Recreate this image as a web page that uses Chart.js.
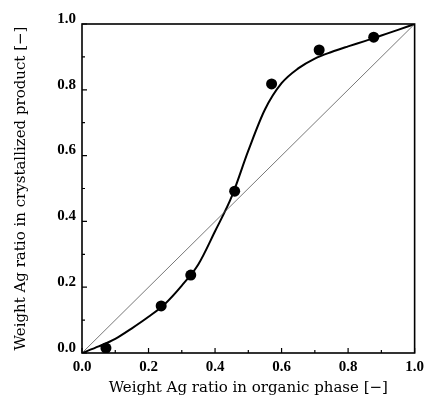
<!DOCTYPE html>
<html>
<head>
<meta charset="utf-8">
<script src="https://cdn.jsdelivr.net/npm/chart.js@4.4.1/dist/chart.umd.min.js"></script>
<style>
  html, body { margin: 0; padding: 0; background: #fff; }
  #wrap { width: 429px; height: 399px; }
</style>
</head>
<body>
<div id="wrap"><canvas id="chart"></canvas></div>
<script>
// measured points
const expX = [0.072, 0.238, 0.327, 0.459, 0.570, 0.713, 0.877];
const expY = [0.015, 0.143, 0.237, 0.492, 0.818, 0.921, 0.960];

// fitted curve
const curveX = [0, 0.05, 0.1, 0.15, 0.2, 0.25, 0.3, 0.35, 0.4, 0.45, 0.5, 0.55, 0.6, 0.65, 0.7, 0.75, 0.8, 0.85, 0.9, 0.95, 1.0];
const curveY = [0, 0.02, 0.043, 0.075, 0.11, 0.15, 0.205, 0.27, 0.37, 0.475, 0.615, 0.74, 0.82, 0.865, 0.895, 0.915, 0.932, 0.948, 0.965, 0.982, 1.0];

// x = y reference line
const diagX = [0, 1];
const diagY = [0, 1];

const tickValues = [0, 0.1, 0.2, 0.3, 0.4, 0.5, 0.6, 0.7, 0.8, 0.9, 1.0];

const SERIF = '"Liberation Serif", "DejaVu Serif", serif';
const TITLE_SERIF = '"DejaVu Serif", "Liberation Serif", serif';

const zip = (xs, ys) => xs.map((x, i) => ({ x, y: ys[i] }));
const isMajor = (v) => Math.round(v * 10) % 2 === 0;

// frame + inward tick marks
const framePlugin = {
  id: 'frameTicks',
  afterDraw(chart) {
    const { ctx, chartArea, scales } = chart;
    const { left, right, top, bottom } = chartArea;
    ctx.save();
    ctx.strokeStyle = '#000';
    ctx.lineWidth = 1.6;
    ctx.strokeRect(left, top, right - left, bottom - top);
    ctx.lineWidth = 1.2;
    ctx.beginPath();
    tickValues.forEach((v) => {
      const len = isMajor(v) ? 5 : 3;
      const px = scales.x.getPixelForValue(v);
      ctx.moveTo(px, bottom);
      ctx.lineTo(px, bottom - len);
      const py = scales.y.getPixelForValue(v);
      ctx.moveTo(left, py);
      ctx.lineTo(left + len, py);
    });
    ctx.stroke();
    ctx.restore();
  }
};

const tickCallback = (value) => (isMajor(value) ? Number(value).toFixed(1) : '');

new Chart(document.getElementById('chart'), {
  type: 'scatter',
  data: {
    datasets: [
      {
        type: 'line',
        data: zip(diagX, diagY),
        borderColor: '#555',
        borderWidth: 0.8,
        pointRadius: 0,
        fill: false
      },
      {
        type: 'line',
        data: zip(curveX, curveY),
        borderColor: '#000',
        borderWidth: 2,
        pointRadius: 0,
        cubicInterpolationMode: 'monotone',
        fill: false
      },
      {
        data: zip(expX, expY),
        pointRadius: 5.5,
        pointBackgroundColor: '#000',
        pointBorderColor: '#000',
        pointBorderWidth: 0
      }
    ]
  },
  options: {
    responsive: true,
    maintainAspectRatio: false,
    animation: false,
    layout: { padding: { top: 24, right: 12, left: 0, bottom: 0 } },
    plugins: {
      legend: { display: false },
      tooltip: { enabled: false }
    },
    scales: {
      x: {
        type: 'linear',
        min: 0,
        max: 1,
        afterFit: (scale) => { scale.height = 46; },
        grid: { display: false, drawTicks: false },
        border: { display: false },
        ticks: {
          stepSize: 0.1,
          autoSkip: false,
          maxRotation: 0,
          padding: 5,
          color: '#000',
          font: { family: SERIF, size: 15, weight: 'bold' },
          callback: tickCallback
        },
        title: {
          display: true,
          text: 'Weight Ag ratio in organic phase [−]',
          color: '#000',
          font: { family: TITLE_SERIF, size: 15 },
          padding: { top: 2, bottom: 2 }
        }
      },
      y: {
        type: 'linear',
        min: 0,
        max: 1,
        afterFit: (scale) => { scale.width = 82; },
        grid: { display: false, drawTicks: false },
        border: { display: false },
        ticks: {
          stepSize: 0.1,
          autoSkip: false,
          padding: 6,
          labelOffset: -5,
          color: '#000',
          font: { family: SERIF, size: 15, weight: 'bold' },
          callback: tickCallback
        },
        title: {
          display: true,
          text: 'Weight Ag ratio in crystallized product [−]',
          color: '#000',
          font: { family: TITLE_SERIF, size: 15 },
          padding: { top: 12, bottom: 2 }
        }
      }
    }
  },
  plugins: [framePlugin]
});
</script>
</body>
</html>
